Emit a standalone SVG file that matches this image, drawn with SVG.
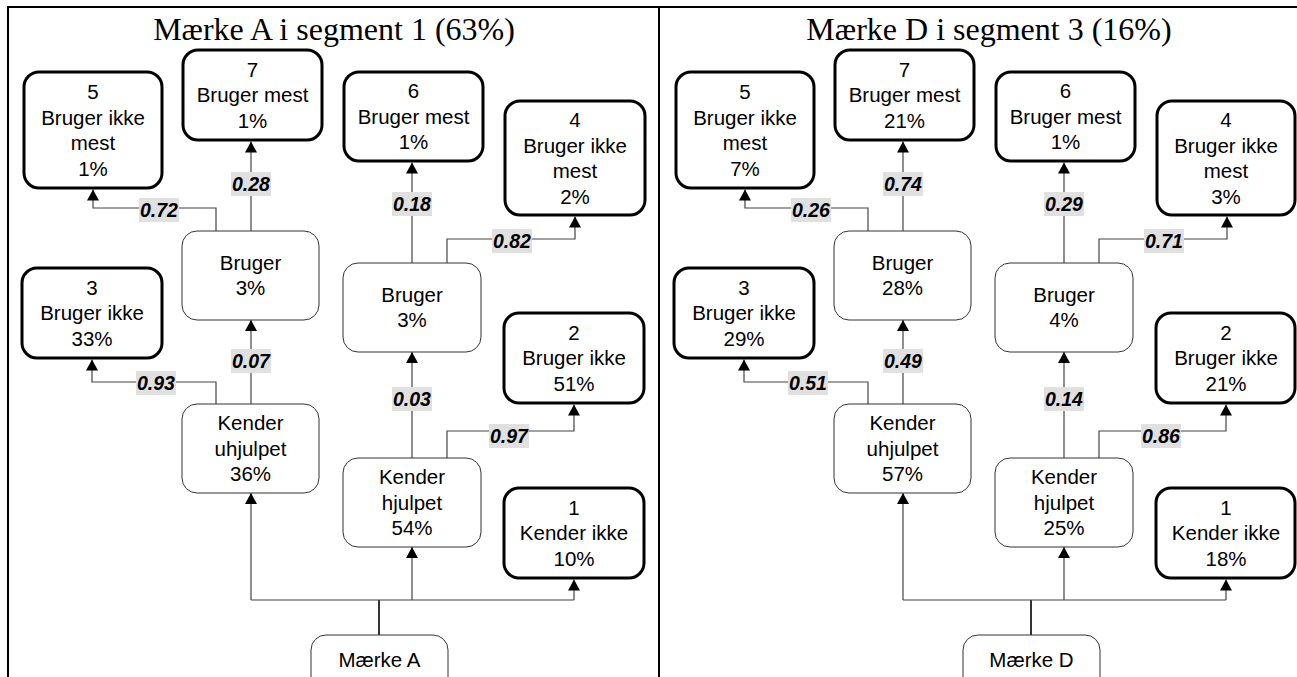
<svg xmlns="http://www.w3.org/2000/svg" width="1297" height="677" viewBox="0 0 1297 677">
<style>
.thick{fill:#fff;stroke:#000;stroke-width:3}
.thin{fill:#fff;stroke:#333;stroke-width:1}
.t{font-family:"Liberation Sans",Arial,sans-serif;font-size:20.5px;fill:#000;text-anchor:middle}
.title{font-family:"Liberation Serif","Times New Roman",serif;font-size:32px;fill:#000;text-anchor:middle}
.c{fill:none;stroke:#444;stroke-width:1.2}
.stem{fill:none;stroke:#000;stroke-width:1.6}
.lb{fill:#e0e0e0}
.lt{font-family:"Liberation Sans",Arial,sans-serif;font-size:19.5px;font-weight:bold;font-style:italic;fill:#000;text-anchor:middle}
.frame{stroke:#000;stroke-width:2;fill:none}
</style>
<defs>
<marker id="ah" markerUnits="userSpaceOnUse" markerWidth="11" markerHeight="12" refX="11" refY="6" orient="auto">
<path d="M0,0 L11,6 L0,12 z" fill="#000"/>
</marker>
</defs>
<rect x="0" y="0" width="1297" height="677" fill="#fff"/>
<g id="frame">
<path class="frame" d="M7,7 H1297 M8,7 V677 M659,7 V677"/>
</g>

<g id="panelA">
<text class="title" x="334" y="40">Mærke A i segment 1 (63%)</text>
<g id="connectors-A">
<path class="stem" d="M379,635 V600"/>
<path class="c" d="M251,600 H574"/>
<path class="c" d="M251,600 V493" marker-end="url(#ah)"/>
<path class="c" d="M412,600 V547" marker-end="url(#ah)"/>
<path class="c" d="M574,600 V579.5" marker-end="url(#ah)"/>
<path class="c" d="M216,404 V382 H92 V359.5" marker-end="url(#ah)"/>
<path class="c" d="M251,404 V320" marker-end="url(#ah)"/>
<path class="c" d="M216,231 V208 H93 V189.5" marker-end="url(#ah)"/>
<path class="c" d="M251,231 V141.5" marker-end="url(#ah)"/>
<path class="c" d="M412,458 V352" marker-end="url(#ah)"/>
<path class="c" d="M447,458 V431 H574 V404.5" marker-end="url(#ah)"/>
<path class="c" d="M412,263 V162.5" marker-end="url(#ah)"/>
<path class="c" d="M447,263 V239 H575 V216.5" marker-end="url(#ah)"/>
<rect class="lb" x="139" y="198" width="40" height="24"/><text class="lt" x="159" y="217">0.72</text>
<rect class="lb" x="231" y="172" width="40" height="24"/><text class="lt" x="251" y="191">0.28</text>
<rect class="lb" x="136" y="371" width="40" height="24"/><text class="lt" x="156" y="390">0.93</text>
<rect class="lb" x="231" y="349" width="40" height="24"/><text class="lt" x="251" y="368">0.07</text>
<rect class="lb" x="392" y="192" width="40" height="24"/><text class="lt" x="412" y="211">0.18</text>
<rect class="lb" x="492" y="229" width="40" height="24"/><text class="lt" x="512" y="248">0.82</text>
<rect class="lb" x="392" y="387" width="40" height="24"/><text class="lt" x="412" y="406">0.03</text>
<rect class="lb" x="489" y="424" width="40" height="24"/><text class="lt" x="509" y="443">0.97</text>
</g>
<g id="A-n5"><rect class="thick" x="24" y="72" width="138" height="116" rx="15"/>
<text class="t" x="93" y="99">5</text><text class="t" x="93" y="124.5">Bruger ikke</text><text class="t" x="93" y="150">mest</text><text class="t" x="93" y="175.5">1%</text></g>
<g id="A-n7"><rect class="thick" x="183" y="50" width="139" height="90" rx="15"/>
<text class="t" x="252.5" y="76.5">7</text><text class="t" x="252.5" y="102">Bruger mest</text><text class="t" x="252.5" y="127.5">1%</text></g>
<g id="A-n6"><rect class="thick" x="344" y="72" width="139" height="89" rx="15"/>
<text class="t" x="413.5" y="98">6</text><text class="t" x="413.5" y="123.5">Bruger mest</text><text class="t" x="413.5" y="149">1%</text></g>
<g id="A-n4"><rect class="thick" x="505" y="101" width="140" height="114" rx="15"/>
<text class="t" x="575" y="127">4</text><text class="t" x="575" y="152.5">Bruger ikke</text><text class="t" x="575" y="178">mest</text><text class="t" x="575" y="203.5">2%</text></g>
<g id="A-b1"><rect class="thin" x="182" y="231" width="137" height="89" rx="15"/>
<text class="t" x="250.5" y="270">Bruger</text><text class="t" x="250.5" y="295">3%</text></g>
<g id="A-b2"><rect class="thin" x="343" y="263" width="138" height="89" rx="15"/>
<text class="t" x="412" y="302">Bruger</text><text class="t" x="412" y="327">3%</text></g>
<g id="A-n3"><rect class="thick" x="22" y="268" width="140" height="90" rx="15"/>
<text class="t" x="92" y="294.5">3</text><text class="t" x="92" y="320">Bruger ikke</text><text class="t" x="92" y="345.5">33%</text></g>
<g id="A-n2"><rect class="thick" x="504" y="313" width="140" height="90" rx="15"/>
<text class="t" x="574" y="339.5">2</text><text class="t" x="574" y="365">Bruger ikke</text><text class="t" x="574" y="390.5">51%</text></g>
<g id="A-ku"><rect class="thin" x="182" y="404" width="137" height="89" rx="15"/>
<text class="t" x="250.5" y="430">Kender</text><text class="t" x="250.5" y="455.5">uhjulpet</text><text class="t" x="250.5" y="481">36%</text></g>
<g id="A-kh"><rect class="thin" x="343" y="458" width="138" height="89" rx="15"/>
<text class="t" x="412" y="484">Kender</text><text class="t" x="412" y="509.5">hjulpet</text><text class="t" x="412" y="535">54%</text></g>
<g id="A-n1"><rect class="thick" x="504" y="488" width="140" height="90" rx="15"/>
<text class="t" x="574" y="514.5">1</text><text class="t" x="574" y="540">Kender ikke</text><text class="t" x="574" y="565.5">10%</text></g>
<g id="A-root"><rect class="thin" x="311" y="635" width="137" height="70" rx="15"/>
<text class="t" x="379.5" y="667">Mærke A</text></g>
</g>

<g id="panelD" transform="translate(652,0)">
<text class="title" x="337" y="40">Mærke D i segment 3 (16%)</text>
<g id="connectors-D">
<path class="stem" d="M379,635 V600"/>
<path class="c" d="M251,600 H574"/>
<path class="c" d="M251,600 V493" marker-end="url(#ah)"/>
<path class="c" d="M412,600 V547" marker-end="url(#ah)"/>
<path class="c" d="M574,600 V579.5" marker-end="url(#ah)"/>
<path class="c" d="M216,404 V382 H92 V359.5" marker-end="url(#ah)"/>
<path class="c" d="M251,404 V320" marker-end="url(#ah)"/>
<path class="c" d="M216,231 V208 H93 V189.5" marker-end="url(#ah)"/>
<path class="c" d="M251,231 V141.5" marker-end="url(#ah)"/>
<path class="c" d="M412,458 V352" marker-end="url(#ah)"/>
<path class="c" d="M447,458 V431 H574 V404.5" marker-end="url(#ah)"/>
<path class="c" d="M412,263 V162.5" marker-end="url(#ah)"/>
<path class="c" d="M447,263 V239 H575 V216.5" marker-end="url(#ah)"/>
<rect class="lb" x="139" y="198" width="40" height="24"/><text class="lt" x="159" y="217">0.26</text>
<rect class="lb" x="231" y="172" width="40" height="24"/><text class="lt" x="251" y="191">0.74</text>
<rect class="lb" x="136" y="371" width="40" height="24"/><text class="lt" x="156" y="390">0.51</text>
<rect class="lb" x="231" y="349" width="40" height="24"/><text class="lt" x="251" y="368">0.49</text>
<rect class="lb" x="392" y="192" width="40" height="24"/><text class="lt" x="412" y="211">0.29</text>
<rect class="lb" x="492" y="229" width="40" height="24"/><text class="lt" x="512" y="248">0.71</text>
<rect class="lb" x="392" y="387" width="40" height="24"/><text class="lt" x="412" y="406">0.14</text>
<rect class="lb" x="489" y="424" width="40" height="24"/><text class="lt" x="509" y="443">0.86</text>
</g>
<g id="D-n5"><rect class="thick" x="24" y="72" width="138" height="116" rx="15"/>
<text class="t" x="93" y="99">5</text><text class="t" x="93" y="124.5">Bruger ikke</text><text class="t" x="93" y="150">mest</text><text class="t" x="93" y="175.5">7%</text></g>
<g id="D-n7"><rect class="thick" x="183" y="50" width="139" height="90" rx="15"/>
<text class="t" x="252.5" y="76.5">7</text><text class="t" x="252.5" y="102">Bruger mest</text><text class="t" x="252.5" y="127.5">21%</text></g>
<g id="D-n6"><rect class="thick" x="344" y="72" width="139" height="89" rx="15"/>
<text class="t" x="413.5" y="98">6</text><text class="t" x="413.5" y="123.5">Bruger mest</text><text class="t" x="413.5" y="149">1%</text></g>
<g id="D-n4"><rect class="thick" x="505" y="101" width="138" height="114" rx="15"/>
<text class="t" x="574" y="127">4</text><text class="t" x="574" y="152.5">Bruger ikke</text><text class="t" x="574" y="178">mest</text><text class="t" x="574" y="203.5">3%</text></g>
<g id="D-b1"><rect class="thin" x="182" y="231" width="137" height="89" rx="15"/>
<text class="t" x="250.5" y="270">Bruger</text><text class="t" x="250.5" y="295">28%</text></g>
<g id="D-b2"><rect class="thin" x="343" y="263" width="138" height="89" rx="15"/>
<text class="t" x="412" y="302">Bruger</text><text class="t" x="412" y="327">4%</text></g>
<g id="D-n3"><rect class="thick" x="22" y="268" width="140" height="90" rx="15"/>
<text class="t" x="92" y="294.5">3</text><text class="t" x="92" y="320">Bruger ikke</text><text class="t" x="92" y="345.5">29%</text></g>
<g id="D-n2"><rect class="thick" x="504" y="313" width="139" height="90" rx="15"/>
<text class="t" x="574" y="339.5">2</text><text class="t" x="574" y="365">Bruger ikke</text><text class="t" x="574" y="390.5">21%</text></g>
<g id="D-ku"><rect class="thin" x="182" y="404" width="137" height="89" rx="15"/>
<text class="t" x="250.5" y="430">Kender</text><text class="t" x="250.5" y="455.5">uhjulpet</text><text class="t" x="250.5" y="481">57%</text></g>
<g id="D-kh"><rect class="thin" x="343" y="458" width="138" height="89" rx="15"/>
<text class="t" x="412" y="484">Kender</text><text class="t" x="412" y="509.5">hjulpet</text><text class="t" x="412" y="535">25%</text></g>
<g id="D-n1"><rect class="thick" x="504" y="488" width="139" height="90" rx="15"/>
<text class="t" x="574" y="514.5">1</text><text class="t" x="574" y="540">Kender ikke</text><text class="t" x="574" y="565.5">18%</text></g>
<g id="D-root"><rect class="thin" x="311" y="635" width="137" height="70" rx="15"/>
<text class="t" x="379.5" y="667">Mærke D</text></g>
</g>
</svg>
